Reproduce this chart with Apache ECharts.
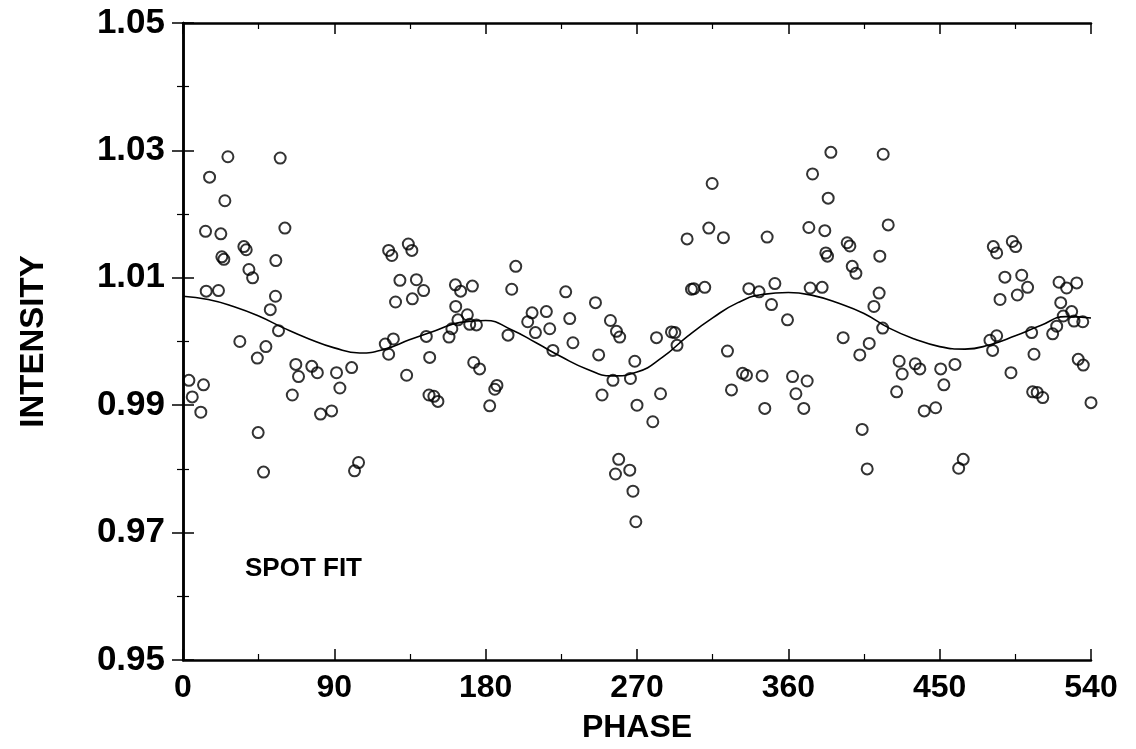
<!DOCTYPE html>
<html>
<head>
<meta charset="utf-8">
<script src="https://cdn.jsdelivr.net/npm/echarts@6/dist/echarts.min.js"></script>
<style>
  html, body { margin: 0; padding: 0; background: #fff; }
  #chart { width: 1136px; height: 749px; }
</style>
</head>
<body>
<div id="chart"></div>
<script>
// observed points (phase in degrees, normalised intensity)
var spotPhase = [
  26.7, 57.8, 15.8, 24.9, 13.4, 22.5, 60.6, 36.2, 37.6, 23.1, 24.3, 55.2, 39.2, 41.4, 13.8, 21.1,
  55.0, 51.9, 56.8, 33.8, 49.3, 44.2, 67.1, 68.7, 76.6, 79.9, 91.3, 100.3, 93.3, 65.0, 81.8, 88.4,
  3.5, 12.2, 5.5, 10.6, 44.7, 47.9, 104.4, 102.0, 122.3, 124.2, 134.0, 136.1, 129.0, 138.8, 126.4,
  136.4, 120.3, 125.1, 122.3, 133.0,
  143.1, 144.7, 146.7, 146.3, 149.2, 151.6, 158.2, 159.9, 162.2, 163.5, 162.0, 165.1, 172.1, 169.1,
  170.5, 174.5, 172.9, 176.4, 186.7, 185.4, 182.4, 197.9, 195.5, 193.3, 207.6, 216.1, 205.0, 209.6,
  218.1, 227.6, 230.0, 231.9, 220.0, 245.3, 254.2, 257.8, 259.7, 247.2, 268.7, 255.7, 266.1, 249.2,
  270.0, 259.1, 265.7, 257.2, 267.6, 269.3,
  385.3, 374.4, 383.7, 372.2, 381.7, 395.0, 396.6, 382.3, 383.3, 398.0, 400.2, 314.7, 312.7, 299.8,
  321.4, 347.4, 302.4, 303.8, 310.3, 336.5, 342.6, 352.0, 373.0, 380.1, 350.0, 359.5, 392.6, 402.5,
  281.6, 290.5, 292.5, 293.8, 284.0, 279.4, 323.8, 332.8, 335.1, 344.4, 362.5, 371.2, 326.2, 364.5,
  346.0, 369.2, 403.9,
  416.4, 419.4, 414.4, 414.0, 410.9, 416.1, 408.1, 425.9, 427.7, 435.5, 438.2, 450.6, 459.1, 452.5,
  424.4, 440.8, 447.6, 406.9, 464.0, 461.3, 481.9, 483.9, 493.2, 495.2, 488.8, 498.8, 502.3, 485.9,
  496.2, 521.0, 525.5, 531.5, 522.0, 528.5, 523.5, 529.9, 535.1, 519.6, 517.2, 479.9, 483.9, 481.5,
  504.7, 506.1, 492.4, 532.4, 535.4, 505.3, 508.0, 511.3, 540.0
];
var spotIntensity = [
  1.0290, 1.0288, 1.0258, 1.0221, 1.0173, 1.0169, 1.0178, 1.0149, 1.0144, 1.0133, 1.0129, 1.0127, 1.0113, 1.0100, 1.0079, 1.0080,
  1.0071, 1.0050, 1.0017, 1.0000, 0.9992, 0.9974, 0.9964, 0.9945, 0.9961, 0.9951, 0.9951, 0.9959, 0.9927, 0.9916, 0.9886, 0.9891,
  0.9939, 0.9932, 0.9913, 0.9889, 0.9857, 0.9795, 0.9810, 0.9797, 1.0143, 1.0135, 1.0153, 1.0143, 1.0096, 1.0097, 1.0062,
  1.0067, 0.9996, 1.0004, 0.9980, 0.9947,
  1.0080, 1.0008, 0.9975, 0.9916, 0.9914, 0.9906, 1.0007, 1.0020, 1.0055, 1.0034, 1.0089, 1.0079, 1.0087, 1.0042,
  1.0027, 1.0026, 0.9967, 0.9957, 0.9931, 0.9925, 0.9899, 1.0118, 1.0082, 1.0010, 1.0045, 1.0047, 1.0031, 1.0014,
  1.0020, 1.0078, 1.0036, 0.9998, 0.9986, 1.0061, 1.0033, 1.0016, 1.0007, 0.9979, 0.9969, 0.9939, 0.9942, 0.9916,
  0.9900, 0.9815, 0.9798, 0.9792, 0.9765, 0.9717,
  1.0297, 1.0263, 1.0225, 1.0179, 1.0174, 1.0155, 1.0150, 1.0139, 1.0134, 1.0118, 1.0107, 1.0248, 1.0178, 1.0161,
  1.0163, 1.0164, 1.0082, 1.0083, 1.0085, 1.0083, 1.0078, 1.0091, 1.0084, 1.0085, 1.0058, 1.0034, 1.0006, 0.9979,
  1.0006, 1.0015, 1.0014, 0.9994, 0.9918, 0.9874, 0.9985, 0.9950, 0.9947, 0.9946, 0.9945, 0.9938, 0.9924, 0.9918,
  0.9895, 0.9895, 0.9862,
  1.0294, 1.0183, 1.0134, 1.0076, 1.0055, 1.0021, 0.9997, 0.9969, 0.9949, 0.9965, 0.9957, 0.9957, 0.9964, 0.9932,
  0.9921, 0.9891, 0.9896, 0.9800, 0.9815, 0.9801, 1.0149, 1.0139, 1.0157, 1.0149, 1.0101, 1.0104, 1.0085, 1.0066,
  1.0073, 1.0093, 1.0084, 1.0092, 1.0061, 1.0047, 1.0040, 1.0032, 1.0031, 1.0024, 1.0012, 1.0002, 1.0009, 0.9986,
  1.0014, 0.9980, 0.9951, 0.9972, 0.9963, 0.9921, 0.9920, 0.9912, 0.9904
];

// spot model curve
var fitPhase = [0, 15, 30, 45, 60, 75, 90, 105, 120, 135, 150, 165, 180, 195, 210, 225, 240, 255, 270,
  285, 300, 315, 330, 345, 360, 375, 390, 405, 420, 435, 450, 465, 480, 495, 510, 525, 540];
var fitIntensity = [1.0071, 1.0066, 1.0055, 1.0040, 1.0021, 1.0004, 0.9990, 0.9982, 0.9988, 1.0003, 1.0017,
  1.0030, 1.0033, 1.0019, 0.9998, 0.9976, 0.9957, 0.9946, 0.9952, 0.9975, 1.0008, 1.0037, 1.0061, 1.0074,
  1.0077, 1.0072, 1.0060, 1.0044, 1.0021, 1.0004, 0.9992, 0.9988, 0.9995, 1.0009, 1.0025, 1.0039, 1.0037];

var phaseTicks = [0, 90, 180, 270, 360, 450, 540];
var intensityTicks = [0.95, 0.97, 0.99, 1.01, 1.03, 1.05];

var spotData = spotPhase.map(function (p, i) { return [p, spotIntensity[i]]; });
var fitData = fitPhase.map(function (p, i) { return [p, fitIntensity[i]]; });

var myChart = echarts.init(document.getElementById('chart'));

var font = "'Liberation Sans', Arial, sans-serif";
var frameLine = { show: true, lineStyle: { color: '#000', width: 2.5 } };
var bigTick = { show: true, inside: true, length: 11, lineStyle: { color: '#000', width: 1.5 } };
var smallTick = { show: true, splitNumber: 2, length: 6, lineStyle: { color: '#000', width: 1.2 } };

var option = {
  animation: false,
  backgroundColor: '#fff',
  grid: { left: 183, right: 45, top: 23, bottom: 88, containLabel: false },
  xAxis: [
    {
      type: 'value',
      min: phaseTicks[0],
      max: phaseTicks[phaseTicks.length - 1],
      interval: phaseTicks[1] - phaseTicks[0],
      name: 'PHASE',
      nameLocation: 'middle',
      nameGap: 52,
      nameTextStyle: { color: '#000', fontSize: 32, fontWeight: 'bold', fontFamily: font },
      axisLine: frameLine,
      axisTick: bigTick,
      minorTick: smallTick,
      splitLine: { show: false },
      axisLabel: { color: '#000', fontSize: 32, fontWeight: 'bold', margin: 12, fontFamily: font }
    },
    {
      type: 'value', position: 'top',
      min: phaseTicks[0], max: phaseTicks[phaseTicks.length - 1],
      interval: phaseTicks[1] - phaseTicks[0],
      axisLine: frameLine, axisTick: bigTick, minorTick: smallTick,
      splitLine: { show: false }, axisLabel: { show: false }
    }
  ],
  yAxis: [
    {
      type: 'value',
      min: intensityTicks[0],
      max: intensityTicks[intensityTicks.length - 1],
      interval: 0.02,
      name: 'INTENSITY',
      nameLocation: 'middle',
      nameRotate: 90,
      nameGap: 133,
      nameTextStyle: { color: '#000', fontSize: 33, fontWeight: 'bold', fontFamily: font },
      axisLine: frameLine,
      axisTick: bigTick,
      minorTick: smallTick,
      splitLine: { show: false },
      axisLabel: {
        color: '#000', fontSize: 35, fontWeight: 'bold', margin: 18, fontFamily: font,
        formatter: function (v) { return v.toFixed(2); }
      }
    },
    {
      type: 'value', position: 'right',
      min: intensityTicks[0], max: intensityTicks[intensityTicks.length - 1],
      interval: 0.02,
      axisLine: frameLine, axisTick: bigTick, minorTick: smallTick,
      splitLine: { show: false }, axisLabel: { show: false }
    }
  ],
  graphic: [
    {
      type: 'text', left: 245, top: 556,
      style: { text: 'SPOT FIT', fill: '#000', fontSize: 26, fontWeight: 'bold', fontFamily: font }
    }
  ],
  series: [
    {
      name: 'data',
      type: 'scatter',
      data: spotData,
      symbol: 'circle',
      symbolSize: 11,
      itemStyle: { color: 'rgba(0,0,0,0)', borderColor: '#000', borderWidth: 2 },
      z: 3
    },
    {
      name: 'fit',
      type: 'line',
      data: fitData,
      smooth: 0.5,
      showSymbol: false,
      lineStyle: { color: '#000', width: 1.6 },
      z: 2
    }
  ]
};

myChart.setOption(option);
</script>
</body>
</html>
